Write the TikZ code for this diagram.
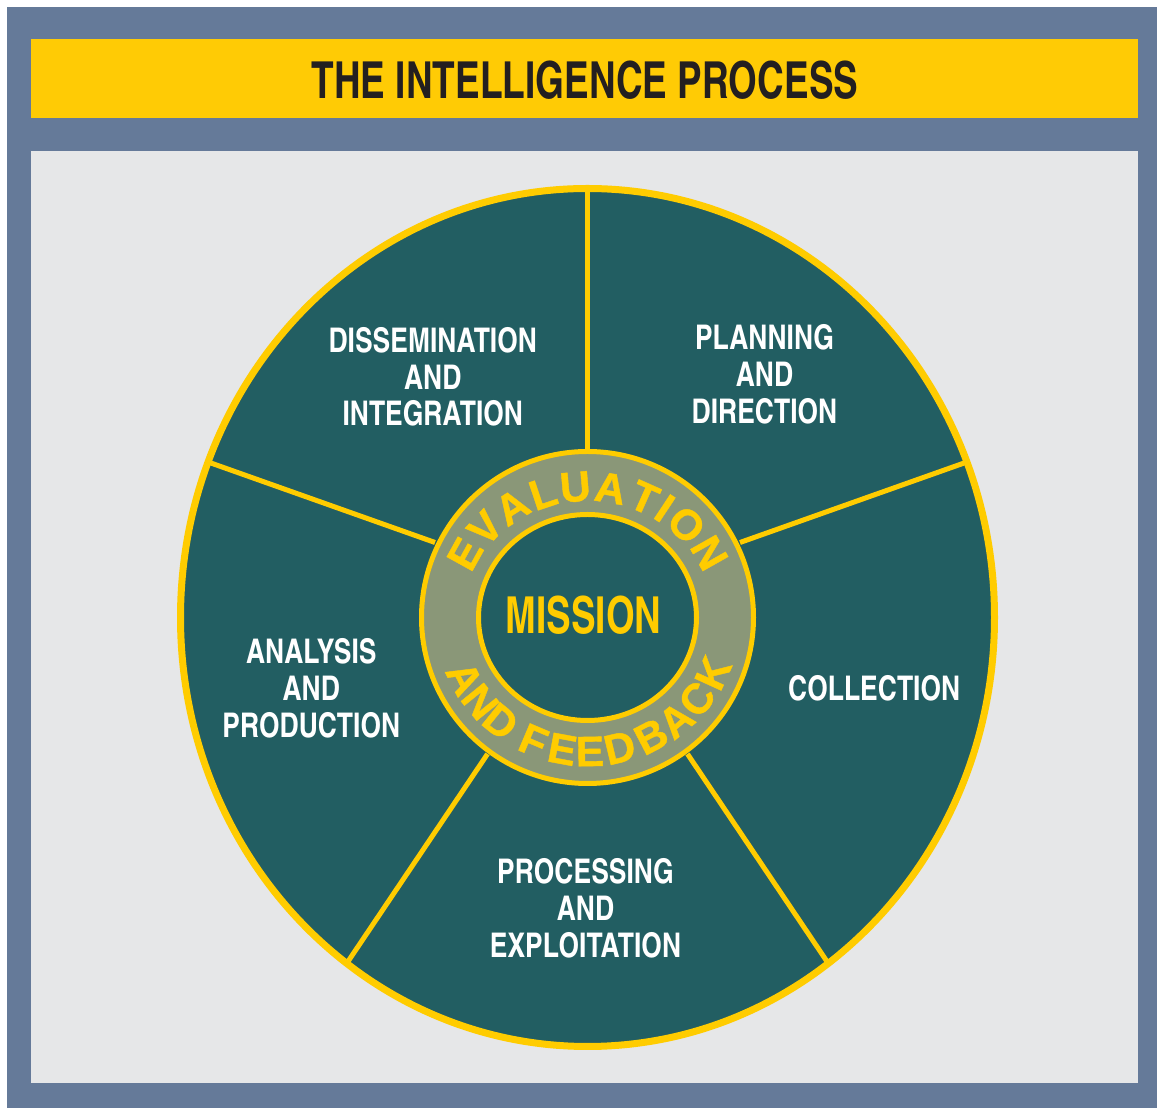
\documentclass[tikz,border=0pt]{standalone}
\usepackage{fontspec}
\newfontfamily\cnnarrow{texgyreheroscn-bold.otf}[FakeStretch=0.885]
\newfontfamily\cnlabel{texgyreheroscn-bold.otf}[FakeStretch=0.95]
\newfontfamily\ringfont{Liberation Sans Bold}[FakeBold=1]
\definecolor{frameblue}{HTML}{657A99}
\definecolor{baryellow}{HTML}{FFCB05}
\definecolor{panelgray}{HTML}{E6E7E8}
\definecolor{wheelteal}{HTML}{225E62}
\definecolor{ringolive}{HTML}{8A9778}
\definecolor{lineyellow}{HTML}{FFCC00}
\definecolor{titleink}{HTML}{231F20}
\begin{document}
\begin{tikzpicture}[x=1pt,y=1pt,
  phase/.style={font=\cnlabel\fontsize{34}{36.7}\selectfont, text=white, align=center, inner sep=0pt},
  divider/.style={draw=lineyellow, line width=5pt},
  ringletter/.style={font=\ringfont\fontsize{42.5}{42.5}\selectfont, text=lineyellow, inner sep=0pt, anchor=center}
]
\useasboundingbox (0,0) rectangle (1157,1108);
\fill[white] (0,0) rectangle (1157,1108);
\fill[frameblue] (7,0) rectangle (1157,1101);
\fill[baryellow] (31,990.3) rectangle (1138,1069);
\fill[panelgray] (31,25) rectangle (1138,957);
\node[inner sep=0pt, text=titleink, font=\cnnarrow\fontsize{51}{55}\selectfont] (title) at (585,1028) {THE INTELLIGENCE PROCESS};

\coordinate (C) at (587.5,490.5);
\fill[wheelteal] (C) ellipse [x radius=407, y radius=429];
% dividers
\coordinate (t1) at (587.5,650); \coordinate (t2) at (587.5,919.5);
\coordinate (ur1) at (740,565.5); \coordinate (ur2) at (967,646);
\coordinate (ul1) at (435,565.5); \coordinate (ul2) at (208,646);
\coordinate (ll1) at (487.5,354); \coordinate (ll2) at (347,145);
\coordinate (lr1) at (687.5,354); \coordinate (lr2) at (828,145);
\draw[divider] (t1) -- (t2);
\draw[divider] (ur1) -- (ur2);
\draw[divider] (ul1) -- (ul2);
\draw[divider] (ll1) -- (ll2);
\draw[divider] (lr1) -- (lr2);
\draw[lineyellow, line width=7pt] (C) ellipse [x radius=407, y radius=429];
\filldraw[fill=ringolive, draw=lineyellow, line width=5pt] (C) circle [radius=166];
\filldraw[fill=wheelteal, draw=lineyellow, line width=5pt] (C) ellipse [x radius=109, y radius=103];

\begin{scope}[shift={(587.5,490.5)}]
\foreach \ch/\ang [count=\i] in {E/151, V/137, A/122.5, L/108.5, U/95, A/80.5, T/66, I/56.5, O/45, N/29.5}
  \node[ringletter, rotate=\ang-90] (top\i) at ({140*cos(\ang)},{131*sin(\ang)}) {\ch};
\foreach \ch/\ang [count=\i] in {A/207, N/219, D/231, F/247, E/259.5, E/271, D/283.5, B/297.5, A/310, C/322.5, K/335.5}
  \node[ringletter, rotate=\ang+90] (bot\i) at ({138*cos(\ang)},{134*sin(\ang)}) {\ch};
\end{scope}

\node[inner sep=0pt, text=lineyellow, font=\cnnarrow\fontsize{51}{55}\selectfont] (mission) at (583.5,492.5) {MISSION};

\node[phase] (dis) at (432.8,731) {DISSEMINATION\\AND\\INTEGRATION};
\node[phase] (plan) at (764.5,733.5) {PLANNING\\AND\\DIRECTION};
\node[phase] (ana) at (311.3,419.5) {ANALYSIS\\AND\\PRODUCTION};
\node[phase] (coll) at (874.2,420) {COLLECTION};
\node[phase] (proc) at (585.5,199.7) {PROCESSING\\AND\\EXPLOITATION};
\end{tikzpicture}
\end{document}
